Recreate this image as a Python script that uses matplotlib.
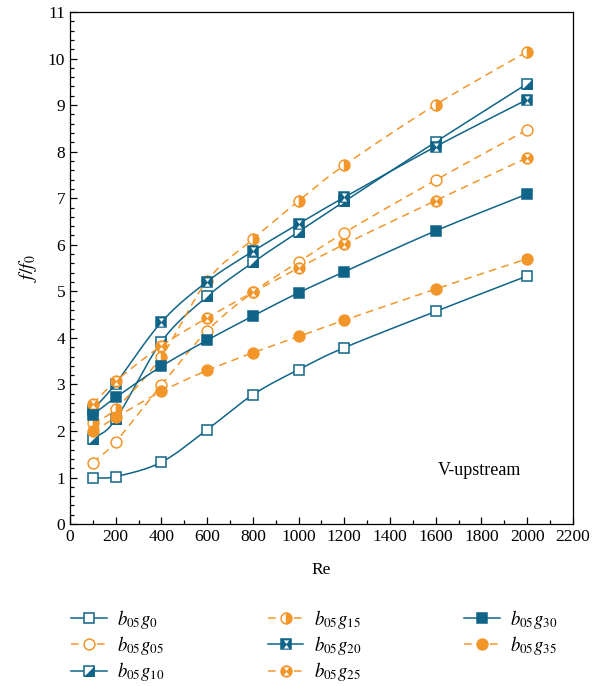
import matplotlib
matplotlib.use("Agg")
import matplotlib.pyplot as plt
import numpy as np
from matplotlib.path import Path
from matplotlib.ticker import MultipleLocator
from matplotlib.legend_handler import HandlerTuple

plt.rcParams["font.family"] = ["Liberation Serif", "DejaVu Serif"]
plt.rcParams["mathtext.fontset"] = "stix"

# data
re_vals = [100, 200, 400, 600, 800, 1000, 1200, 1600, 2000]

b05g0 = [0.99, 1.02, 1.33, 2.03, 2.78, 3.32, 3.79, 4.57, 5.33]
b05g05 = [1.32, 1.77, 2.99, 4.15, 4.98, 5.63, 6.26, 7.39, 8.47]
b05g10 = [1.82, 2.25, 3.92, 4.89, 5.62, 6.28, 6.93, 8.21, 9.46]
b05g15 = [2.17, 2.48, 3.60, 5.23, 6.12, 6.94, 7.71, 9.01, 10.15]
b05g20 = [2.45, 3.02, 4.34, 5.21, 5.86, 6.45, 7.02, 8.11, 9.12]
b05g25 = [2.58, 3.07, 3.83, 4.43, 4.98, 5.50, 6.01, 6.95, 7.87]
b05g30 = [2.35, 2.72, 3.39, 3.95, 4.47, 4.97, 5.42, 6.30, 7.09]
b05g35 = [1.99, 2.29, 2.85, 3.30, 3.68, 4.03, 4.38, 5.05, 5.70]

labels = [r"$b_{05}g_{0}$", r"$b_{05}g_{05}$", r"$b_{05}g_{10}$", r"$b_{05}g_{15}$",
          r"$b_{05}g_{20}$", r"$b_{05}g_{25}$", r"$b_{05}g_{30}$", r"$b_{05}g_{35}$"]

BLUE = "#0f6488"
ORANGE = "#f2962a"

# custom marker shapes
half_sq = Path([(1, -1), (1, 1), (-1, -1), (1, -1)],
               [Path.MOVETO, Path.LINETO, Path.LINETO, Path.CLOSEPOLY])
hourglass = Path(
    [(-1, -1), (1, 1),
     (-0.5, 0.75), (0.5, 0.75), (0, 0.08), (-0.5, 0.75),
     (-0.5, -0.75), (0.5, -0.75), (0, -0.08), (-0.5, -0.75)],
    [Path.MOVETO, Path.MOVETO,
     Path.MOVETO, Path.LINETO, Path.LINETO, Path.CLOSEPOLY,
     Path.MOVETO, Path.LINETO, Path.LINETO, Path.CLOSEPOLY])


def smooth(x, y, n=24):
    """catmull-rom curve through the points, only used to draw the line"""
    pts = np.column_stack([x, y]).astype(float)
    pts = np.vstack([2 * pts[0] - pts[1], pts, 2 * pts[-1] - pts[-2]])
    t = np.linspace(0, 1, n, endpoint=False)[:, None]
    out = []
    for i in range(1, len(pts) - 2):
        p0, p1, p2, p3 = pts[i - 1], pts[i], pts[i + 1], pts[i + 2]
        out.append(0.5 * (2 * p1 + (p2 - p0) * t
                          + (2 * p0 - 5 * p1 + 4 * p2 - p3) * t ** 2
                          + (-p0 + 3 * p1 - 3 * p2 + p3) * t ** 3))
    out.append(pts[-2][None])
    c = np.vstack(out)
    return c[:, 0], c[:, 1]


fig = plt.figure(figsize=(6.05, 6.86), dpi=100)
ax = fig.add_axes([0.1157, 0.236, 0.8313, 0.7465])

MS = 7.8
handles = []


def series(y, color, dashed, marker, face, fillstyle="full", overlay=None, ov_color="white"):
    ls = (0, (5, 3.5)) if dashed else "-"
    line, = ax.plot(*smooth(re_vals, y), color=color, lw=1.1, ls=ls)
    mk, = ax.plot(re_vals, y, ls="none", marker=marker, ms=MS, mec=color, mew=1.1,
                  mfc=face, fillstyle=fillstyle, markerfacecoloralt="white")
    parts = [line, mk]
    if overlay is not None:
        ov, = ax.plot(re_vals, y, ls="none", marker=overlay, ms=MS, mew=0, mfc=ov_color)
        parts.append(ov)
    handles.append(tuple(parts))


series(b05g0, BLUE, False, "s", "white")
series(b05g05, ORANGE, True, "o", "white")
series(b05g10, BLUE, False, "s", "white", overlay=half_sq, ov_color=BLUE)
series(b05g15, ORANGE, True, "o", ORANGE, fillstyle="right")
series(b05g20, BLUE, False, "s", BLUE, overlay=hourglass)
series(b05g25, ORANGE, True, "o", ORANGE, overlay=hourglass)
series(b05g30, BLUE, False, "s", BLUE)
series(b05g35, ORANGE, True, "o", ORANGE)

ax.set_xlim(0, 2200)
ax.set_ylim(0, 11)
ax.xaxis.set_major_locator(MultipleLocator(200))
ax.xaxis.set_minor_locator(MultipleLocator(100))
ax.yaxis.set_major_locator(MultipleLocator(1))
ax.yaxis.set_minor_locator(MultipleLocator(0.2))
ax.tick_params(which="both", direction="in", top=False, right=False, labelsize=12.5, width=0.9)
ax.tick_params(which="major", length=5)
ax.tick_params(which="minor", length=3)
for s in ax.spines.values():
    s.set_linewidth(0.9)

ax.set_xlabel("Re", fontsize=12.5, labelpad=12)
ax.set_ylabel(r"$f/f_0$", fontsize=14, labelpad=6)
ax.text(1790, 1.16, "V-upstream", fontsize=13, ha="center", va="center")

fig.legend(handles, labels, handler_map={tuple: HandlerTuple(ndivide=1)},
           loc="upper left", bbox_to_anchor=(0.102, 0.128), ncol=3, frameon=False,
           fontsize=13.5, handlelength=1.9, handletextpad=0.55, columnspacing=5.5,
           labelspacing=0.18, borderpad=0, numpoints=1)

fig.savefig("out.png", dpi=100)
